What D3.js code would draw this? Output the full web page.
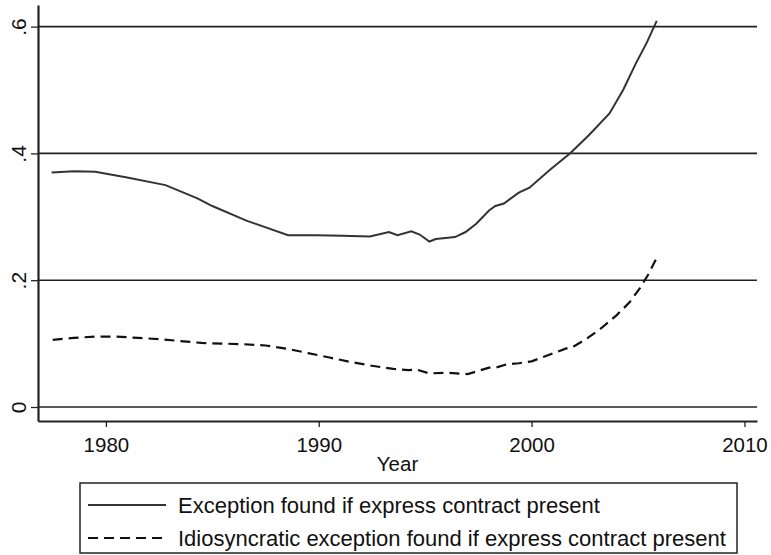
<!DOCTYPE html>
<html>
<head>
<meta charset="utf-8">
<script src="https://cdn.jsdelivr.net/npm/d3@7"></script>
<style>
  html, body { margin: 0; padding: 0; background: #fff; }
  svg { display: block; font-family: "Liberation Sans", Arial, Helvetica, sans-serif; }
</style>
</head>
<body>
<svg id="chart" width="771" height="555"></svg>
<script>
// ---- Data ----
const solidYears = [1977.45, 1978.5, 1979.5, 1981.0, 1982.8, 1984.3, 1985.0, 1986.6, 1988.56, 1989.9, 1991.1, 1992.4, 1993.3, 1993.7, 1994.35, 1994.74, 1995.2, 1995.5, 1996.4, 1996.9, 1997.4, 1998.0, 1998.3, 1998.7, 1999.4, 1999.9, 2000.85, 2001.8, 2002.7, 2003.66, 2004.3, 2004.9, 2005.4, 2005.88];
const solidValues = [0.370, 0.372, 0.371, 0.362, 0.350, 0.329, 0.317, 0.294, 0.271, 0.271, 0.270, 0.269, 0.276, 0.271, 0.277, 0.272, 0.261, 0.265, 0.268, 0.276, 0.289, 0.310, 0.317, 0.321, 0.338, 0.346, 0.374, 0.400, 0.429, 0.463, 0.500, 0.542, 0.574, 0.609];

const dashedYears = [1977.5, 1978.5, 1979.5, 1980.5, 1981.5, 1982.5, 1983.5, 1984.5, 1985.5, 1986.5, 1987.5, 1988.5, 1989.5, 1990.5, 1991.5, 1992.5, 1993.5, 1994.2, 1994.6, 1995.2, 1996.0, 1997.0, 1997.6, 1998.0, 1998.4, 1998.8, 1999.4, 2000.0, 2000.8, 2001.6, 2002.0, 2002.6, 2003.3, 2004.0, 2004.6, 2005.1, 2005.5, 2005.9];
const dashedValues = [0.106, 0.109, 0.111, 0.111, 0.109, 0.107, 0.104, 0.101, 0.100, 0.099, 0.097, 0.092, 0.085, 0.078, 0.071, 0.065, 0.060, 0.058, 0.059, 0.053, 0.054, 0.052, 0.058, 0.062, 0.063, 0.067, 0.069, 0.072, 0.082, 0.092, 0.096, 0.108, 0.125, 0.145, 0.165, 0.188, 0.210, 0.237];

const xTicks = [1980, 1990, 2000, 2010];
const yTicks = [0, 0.2, 0.4, 0.6];
const yTickLabels = ["0", ".2", ".4", ".6"];
const seriesNames = ["Exception found if express contract present",
                     "Idiosyncratic exception found if express contract present"];
const xTitle = "Year";

// ---- Layout ----
const svg = d3.select("#chart");
const plotL = 38, plotR = 757, plotT = 5, plotB = 421;

const x = d3.scaleLinear().domain([1976.81, 2010.59]).range([plotL, plotR]);
const y = d3.scaleLinear().domain([-0.0221, 0.6341]).range([plotB, plotT]);

const ink = "#222";

// gridlines
svg.append("g").selectAll("line").data(yTicks).join("line")
  .attr("x1", plotL).attr("x2", plotR)
  .attr("y1", d => y(d)).attr("y2", d => y(d))
  .attr("stroke", ink).attr("stroke-width", 1.6);

// y axis
const yAxis = d3.axisLeft(y).tickValues(yTicks).tickFormat((d, i) => yTickLabels[i]).tickSize(7).tickSizeOuter(0);
const gy = svg.append("g").attr("transform", `translate(${plotL},0)`).call(yAxis);
gy.select(".domain").attr("stroke", ink).attr("stroke-width", 2.2);
gy.selectAll(".tick line").attr("stroke", ink).attr("stroke-width", 1.3);
gy.selectAll(".tick text")
  .attr("font-size", 21).attr("fill", "#111")
  .attr("x", null).attr("dy", null)
  .attr("text-anchor", "middle")
  .attr("transform", "translate(-12.5,0) rotate(-90)")
  .attr("y", 0);

// x axis
const xAxis = d3.axisBottom(x).tickValues(xTicks).tickFormat(d3.format("d")).tickSize(6).tickSizeOuter(0);
const gx = svg.append("g").attr("transform", `translate(0,${plotB})`).call(xAxis);
gx.select(".domain").attr("stroke", ink).attr("stroke-width", 2.2);
gx.selectAll(".tick line").attr("stroke", ink).attr("stroke-width", 1.3);
gx.selectAll(".tick text").attr("font-size", 20.5).attr("fill", "#111").attr("y", 16).attr("dy", "0.71em");

// x title
svg.append("text").attr("x", (plotL + plotR) / 2).attr("y", 471)
  .attr("text-anchor", "middle").attr("font-size", 20.5).attr("fill", "#111").text(xTitle);

// lines
const solidData = solidYears.map((d, i) => [d, solidValues[i]]);
const dashedData = dashedYears.map((d, i) => [d, dashedValues[i]]);
const line = d3.line().x(d => x(d[0])).y(d => y(d[1]));

svg.append("path").datum(solidData).attr("d", line)
  .attr("fill", "none").attr("stroke", "#333").attr("stroke-width", 2);
svg.append("path").datum(dashedData).attr("d", line)
  .attr("fill", "none").attr("stroke", "#111").attr("stroke-width", 2.2)
  .attr("stroke-dasharray", "10,6");

// legend
const lg = svg.append("g");
lg.append("rect").attr("x", 80).attr("y", 483).attr("width", 657).attr("height", 70)
  .attr("fill", "#fff").attr("stroke", ink).attr("stroke-width", 1.5);
const rows = [505, 538];
const dashes = [null, "10,6"];
seriesNames.forEach((name, i) => {
  lg.append("line").attr("x1", 88).attr("x2", 166).attr("y1", rows[i]).attr("y2", rows[i])
    .attr("stroke", i === 0 ? "#333" : "#111").attr("stroke-width", 2)
    .attr("stroke-dasharray", dashes[i]);
  lg.append("text").attr("x", 178).attr("y", rows[i]).attr("dy", "0.36em")
    .attr("font-size", 22).attr("fill", "#111").text(name);
});
</script>
</body>
</html>
